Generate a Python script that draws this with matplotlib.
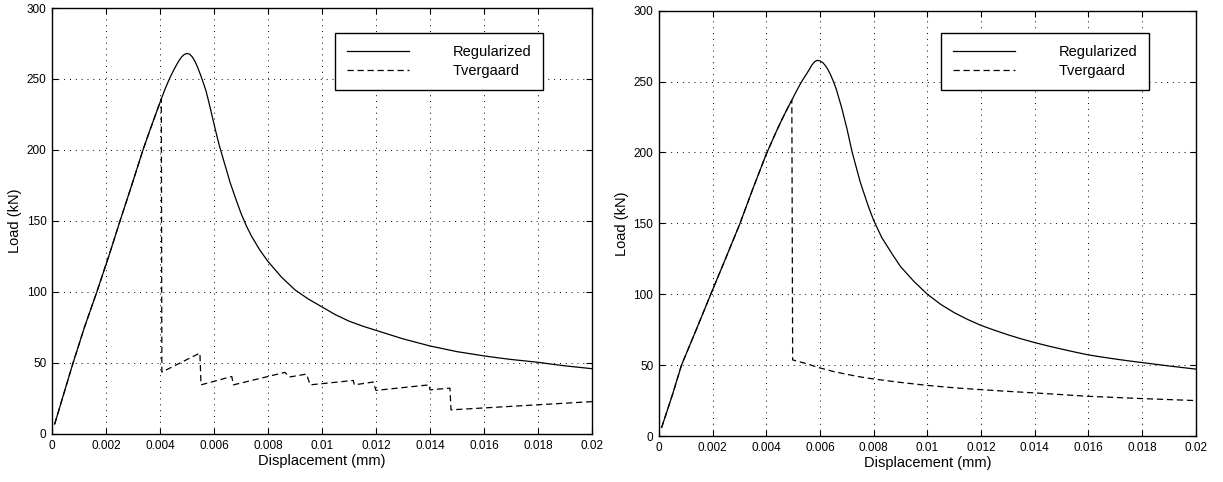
import matplotlib
matplotlib.use('Agg')
import matplotlib.pyplot as plt

plt.rcParams['font.family'] = ['Liberation Sans', 'DejaVu Sans']

# left panel
reg_left_x = [0.0001, 0.0004, 0.00078, 0.0012, 0.00166, 0.0021, 0.00252, 0.00295, 0.00337,
              0.0036, 0.0038, 0.00405, 0.0042, 0.00436, 0.0045, 0.0046, 0.0047, 0.0048,
              0.0049, 0.005, 0.0051, 0.0052, 0.0053, 0.0054, 0.0055, 0.00556, 0.0057,
              0.0058, 0.0059, 0.006, 0.0061, 0.0062, 0.0064, 0.0066, 0.0068, 0.007,
              0.0072, 0.0074, 0.0077, 0.008, 0.0085, 0.009, 0.0095, 0.01, 0.0105, 0.011,
              0.0115, 0.012, 0.0125, 0.013, 0.0135, 0.014, 0.0145, 0.015, 0.0155, 0.016,
              0.0165, 0.017, 0.0175, 0.018, 0.0185, 0.019, 0.0195, 0.02]
reg_left_y = [7, 26, 50, 75, 100, 125, 150, 175, 200, 212.5, 223, 236, 243.5, 250.5, 256,
              259.5, 262.8, 265.5, 267.3, 268, 267.5, 265.5, 262.3, 258, 253, 249.8, 242,
              234.5, 226.5, 218.5, 210.5, 203, 190, 177, 166, 155.5, 146.5, 139, 129.5,
              121.5, 110.5, 101.5, 95, 89.5, 84, 79.5, 76, 73, 70, 67, 64.5, 62, 60, 58,
              56.5, 55, 53.7, 52.5, 51.5, 50.5, 49.2, 48, 47, 46]

tv_left_x = [0.0001, 0.0004, 0.00078, 0.0012, 0.00166, 0.0021, 0.00252, 0.00295, 0.00337,
             0.0036, 0.0038, 0.00405, 0.00407, 0.00548, 0.00552, 0.00666, 0.00672, 0.00863,
             0.00879, 0.00943, 0.00956, 0.01116, 0.0112, 0.0119, 0.012, 0.01397, 0.014,
             0.01474, 0.01478, 0.02]
tv_left_y = [7, 26, 50, 75, 100, 125, 150, 175, 200, 212.5, 223, 236, 43.6, 57, 34.6, 40.5,
             34.6, 43.4, 40.1, 42.2, 34.6, 37.7, 34.6, 36.6, 30.7, 34.6, 31.1, 32.3, 17, 22.8]

# right panel
reg_right_x = [0.0001, 0.0005, 0.00084, 0.0014, 0.00193, 0.0025, 0.00302, 0.0035, 0.00398,
               0.0042, 0.0044, 0.0046, 0.0048, 0.00498, 0.0051, 0.0052, 0.0053, 0.0054,
               0.0055, 0.0056, 0.0057, 0.0058, 0.0059, 0.006, 0.0061, 0.0062, 0.0063,
               0.0064, 0.0065, 0.0066, 0.0068, 0.007, 0.0072, 0.0075, 0.0078, 0.008, 0.0083,
               0.0087, 0.009, 0.0095, 0.01, 0.0105, 0.011, 0.0115, 0.012, 0.0125, 0.013,
               0.0135, 0.014, 0.0145, 0.015, 0.0155, 0.016, 0.0165, 0.017, 0.0175, 0.018,
               0.0185, 0.019, 0.0195, 0.02]
reg_right_y = [6, 29, 50, 75.5, 100, 126, 150, 174.5, 198, 207.5, 216, 224, 231.5, 238,
               242.5, 246, 249.5, 252.5, 255.5, 258.5, 261.8, 264, 265, 264.6, 263.4, 261.3,
               258.3, 254.5, 250, 245, 232, 217, 200, 179, 162, 152, 140, 128, 119.5, 109,
               100, 92.8, 87, 82.2, 78, 74.6, 71.4, 68.5, 65.9, 63.5, 61.3, 59.2, 57.2, 55.7,
               54.3, 53, 51.8, 50.6, 49.4, 48.3, 47.2]

tv_right_x = [0.0001, 0.0005, 0.00084, 0.0014, 0.00193, 0.0025, 0.00302, 0.0035, 0.00398,
              0.0042, 0.0044, 0.0046, 0.0048, 0.00495, 0.00498, 0.0055, 0.006, 0.0065,
              0.007, 0.0075, 0.008, 0.009, 0.01, 0.011, 0.012, 0.013, 0.014, 0.015, 0.016,
              0.017, 0.018, 0.019, 0.02]
tv_right_y = [6, 29, 50, 75.5, 100, 126, 150, 174.5, 198, 207.5, 216, 224, 231.5, 237, 53.7,
              51, 48, 45.5, 43.5, 41.7, 40.2, 37.8, 35.7, 34, 32.7, 31.5, 30.4, 29.2, 28,
              27.2, 26.4, 25.7, 25]

xticks = [0, 0.002, 0.004, 0.006, 0.008, 0.01, 0.012, 0.014, 0.016, 0.018, 0.02]
xticklabels = ['0', '0.002', '0.004', '0.006', '0.008', '0.01', '0.012', '0.014', '0.016', '0.018', '0.02']
yticks = [0, 50, 100, 150, 200, 250, 300]

fig = plt.figure(figsize=(12.23, 4.82), dpi=100)
ax1 = fig.add_axes([0.0425, 0.0996, 0.4415, 0.8838])
ax2 = fig.add_axes([0.5388, 0.0954, 0.4390, 0.8824])

panels = [(ax1, reg_left_x, reg_left_y, tv_left_x, tv_left_y, (0.524, 0.9406)),
          (ax2, reg_right_x, reg_right_y, tv_right_x, tv_right_y, (0.526, 0.947))]

for ax, rx, ry, tx, ty, anchor in panels:
    ax.plot(rx, ry, color='black', lw=0.9, label='Regularized')
    ax.plot(tx, ty, color='black', lw=0.9, dashes=(5, 3), label='Tvergaard')
    ax.set_xlim(0, 0.02)
    ax.set_ylim(0, 300)
    ax.set_xticks(xticks)
    ax.set_xticklabels(xticklabels)
    ax.set_yticks(yticks)
    ax.grid(True, color='black', lw=0.7, linestyle=(0, (1, 5)))
    ax.tick_params(direction='in', top=True, right=True, length=4, width=0.8,
                   labelsize=8.5, pad=4)
    for s in ax.spines.values():
        s.set_linewidth(1.0)
    ax.set_xlabel('Displacement (mm)', fontsize=10.5, labelpad=1.5)
    ax.set_ylabel('Load (kN)', fontsize=10.5, labelpad=3)
    leg = ax.legend(loc='upper left', bbox_to_anchor=anchor, fontsize=10.5,
                    handlelength=4.25, handletextpad=3.0, borderpad=0.8,
                    labelspacing=0.35, fancybox=False, framealpha=1,
                    edgecolor='black', borderaxespad=0)
    leg.get_frame().set_linewidth(1.0)

fig.savefig('out.png', dpi=100)
